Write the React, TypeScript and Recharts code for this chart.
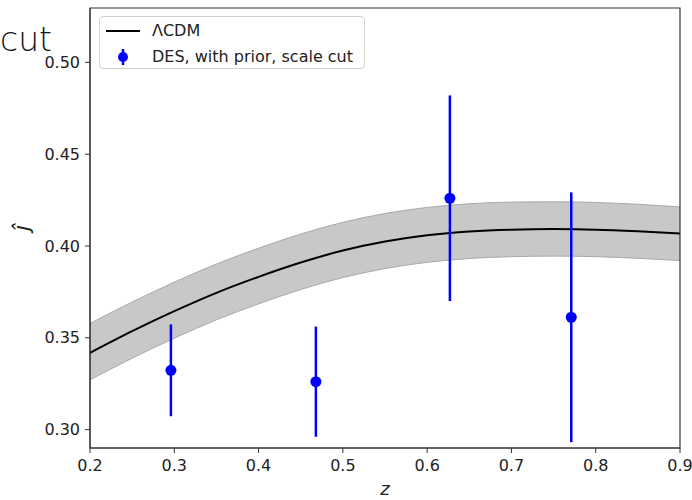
import {
  ComposedChart,
  Line,
  Area,
  Scatter,
  ErrorBar,
  XAxis,
  YAxis,
  ReferenceArea,
} from 'recharts'

const zGrid = [0.2, 0.25, 0.3, 0.35, 0.4, 0.45, 0.5, 0.55, 0.6, 0.65, 0.7, 0.75, 0.8, 0.85, 0.9]
const lcdm = [0.3418, 0.3536, 0.3645, 0.3745, 0.3832, 0.391, 0.3975, 0.4024, 0.4058, 0.4079, 0.4089, 0.4092, 0.4089, 0.408, 0.4068]
const bandHigh = [0.3578, 0.3695, 0.3803, 0.3902, 0.3988, 0.4065, 0.4129, 0.4177, 0.421, 0.423, 0.4239, 0.4241, 0.4237, 0.4227, 0.4213]
const bandLow = [0.3271, 0.3389, 0.3498, 0.3598, 0.3685, 0.3763, 0.3828, 0.3877, 0.3911, 0.3932, 0.3942, 0.3945, 0.3942, 0.3933, 0.3921]

const desZ = [0.296, 0.468, 0.627, 0.771]
const desJ = [0.3323, 0.3261, 0.426, 0.3612]
const desErr = [0.025, 0.03, 0.056, 0.068]

const xTicks = [0.2, 0.3, 0.4, 0.5, 0.6, 0.7, 0.8, 0.9]
const yTicks = [0.3, 0.35, 0.4, 0.45, 0.5]

const curve = zGrid.map((z, i) => ({ z, lcdm: lcdm[i], band: [bandLow[i], bandHigh[i]] }))
const des = desZ.map((z, i) => ({ z, j: desJ[i], err: desErr[i] }))

const FONT = '"DejaVu Sans", sans-serif'
const tickStyle = { fill: '#222', fontSize: 16, fontFamily: FONT }

function YLabel({ viewBox }: any) {
  const x = viewBox.x + 21
  const y = viewBox.y + viewBox.height / 2
  return (
    <text x={x} y={y} transform={`rotate(-90 ${x} ${y})`} textAnchor="middle" dominantBaseline="central"
      fontFamily={FONT} fontStyle="italic" fontSize={22} fill="#222">
      ĵ
    </text>
  )
}

function XLabel({ viewBox }: any) {
  return (
    <text x={viewBox.x + viewBox.width / 2} y={viewBox.y + 47} textAnchor="middle"
      fontFamily={FONT} fontStyle="italic" fontSize={18} fill="#222">
      z
    </text>
  )
}

function LegendBox() {
  return (
    <div style={{
      position: 'absolute', left: 99, top: 16, width: 266, height: 53,
      border: '1px solid #d0d0d0', borderRadius: 4, background: 'rgba(255,255,255,0.8)',
      fontFamily: FONT, fontSize: 16, color: '#222', boxSizing: 'border-box',
    }}>
      <svg width={50} height={53} style={{ position: 'absolute', left: 0, top: 0 }}>
        <line x1={6} x2={40} y1={14} y2={14} stroke="#000" strokeWidth={2} />
        <line x1={23} x2={23} y1={32} y2={48} stroke="#0000ff" strokeWidth={2.5} />
        <circle cx={23} cy={40} r={5} fill="#0000ff" />
      </svg>
      <div style={{ position: 'absolute', left: 52, top: 4, whiteSpace: 'nowrap' }}>ΛCDM</div>
      <div style={{ position: 'absolute', left: 52, top: 30, whiteSpace: 'nowrap' }}>DES, with prior, scale cut</div>
    </div>
  )
}

export default function App() {
  return (
    <div style={{ position: 'absolute', left: 0, top: 0, width: 692, height: 500, background: '#fff' }}>
      <ComposedChart width={692} height={500} data={curve} margin={{ top: 8, right: 12, bottom: 0, left: 0 }}>
        <XAxis
          type="number"
          dataKey="z"
          domain={[0.2, 0.9]}
          ticks={xTicks}
          tickFormatter={(v: number) => v.toFixed(1)}
          tick={tickStyle}
          tickSize={5}
          tickMargin={7}
          stroke="#333"
          height={52}
          allowDataOverflow
          label={<XLabel />}
        />
        <YAxis
          type="number"
          domain={[0.29, 0.5296]}
          ticks={yTicks}
          tickFormatter={(v: number) => v.toFixed(2)}
          tick={tickStyle}
          tickSize={5}
          tickMargin={5}
          stroke="#333"
          width={90}
          allowDataOverflow
          label={<YLabel />}
        />
        <Area
          type="monotone"
          dataKey="band"
          fill="#c8c8c8"
          fillOpacity={1}
          stroke="#a8a8a8"
          strokeWidth={1}
          isAnimationActive={false}
          activeDot={false}
        />
        <Line
          type="monotone"
          dataKey="lcdm"
          stroke="#000"
          strokeWidth={2}
          dot={false}
          activeDot={false}
          isAnimationActive={false}
        />
        <Scatter data={des} dataKey="j" fill="#0000ff" shape={(p: any) => <circle cx={p.cx} cy={p.cy} r={5.5} fill="#0000ff" />} isAnimationActive={false}>
          <ErrorBar dataKey="err" direction="y" width={0} stroke="#0000ff" strokeWidth={2.5} />
        </Scatter>
        <ReferenceArea x1={0.2} x2={0.9} y1={0.29} y2={0.5296} fill="none" stroke="#333" strokeWidth={1.2} />
      </ComposedChart>
      <LegendBox />
      <svg width={692} height={500} style={{ position: 'absolute', left: 0, top: 0, pointerEvents: 'none' }}>
        <text x={0} y={51} textAnchor="start" fontFamily={FONT} fontWeight={200} fontSize={33} fill="#111">cut</text>
      </svg>
    </div>
  )
}
